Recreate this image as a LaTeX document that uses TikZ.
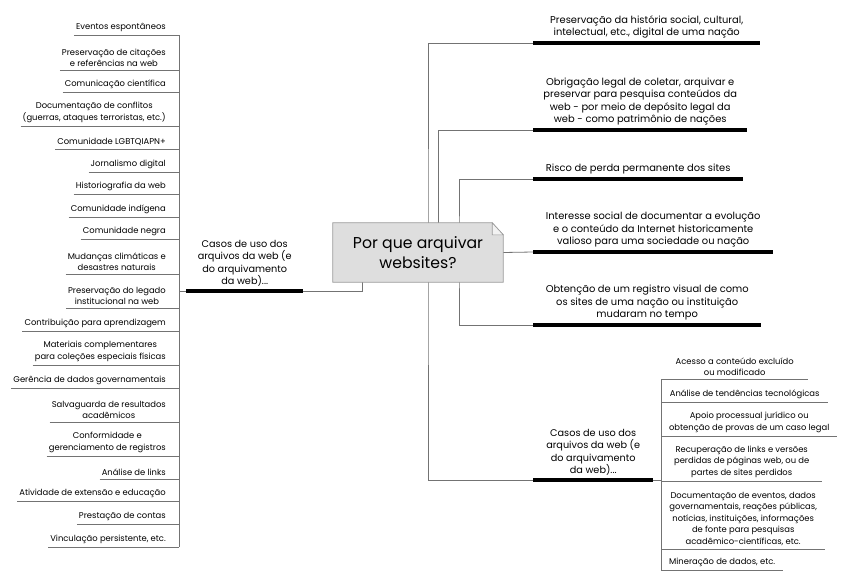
\documentclass[tikz,border=0pt]{standalone}
\usepackage{fontspec}
\setmainfont{Poppins}
\usetikzlibrary{backgrounds}

\begin{document}
\begin{tikzpicture}[x=1pt,y=-1pt,
  branch/.style={draw=black!55,line width=.8pt},
  leafline/.style={draw=black!55,line width=.8pt},
  thickline/.style={draw=black,line width=3.2pt},
  lleaf/.style={anchor=south east,align=center,inner xsep=2pt,inner ysep=3.2pt,
    font=\fontsize{8.4}{11.5}\selectfont},
  sleaf/.style={anchor=south west,align=center,inner xsep=2pt,inner ysep=3.2pt,
    font=\fontsize{8.4}{11.5}\selectfont},
  topic/.style={anchor=south west,align=center,inner xsep=0pt,inner ysep=4.5pt,
    font=\fontsize{9.9}{12.5}\selectfont},
  casos/.style={topic,font=\fontsize{9.7}{12.5}\selectfont}]
  \useasboundingbox (0,0) rectangle (850,581);

  % central question
  \node (q) [minimum width=170pt,minimum height=59pt,inner sep=0pt,align=center,
    font=\fontsize{15.7}{20}\selectfont] at (418,252.5) {Por que arquivar\\websites?};

  % right side: reasons
  \node (r1) [topic,minimum width=227pt] at (533,43) {Preservação da história social, cultural,\\intelectual, etc., digital de uma nação};
  \node (r2) [topic,minimum width=214pt] at (533,130) {Obrigação legal de coletar, arquivar e\\preservar para pesquisa conteúdos da\\web - por meio de depósito legal da\\web - como patrimônio de nações};
  \node (r3) [topic,minimum width=210pt] at (533,179) {Risco de perda permanente dos sites};
  \node (r4) [topic,minimum width=240pt] at (533,252) {Interesse social de documentar a evolução\\e o conteúdo da Internet historicamente\\valioso para uma sociedade ou nação};
  \node (r5) [topic,minimum width=228pt] at (533,325) {Obtenção de um registro visual de como\\os sites de uma nação ou instituição\\mudaram no tempo};
  \node (r6) [casos,minimum width=120pt] at (533,480) {Casos de uso dos\\arquivos da web (e\\do arquivamento\\da web)...};

  % right side: use cases
  \node (s1) [sleaf,minimum width=147pt] at (661,379) {Acesso a conteúdo excluído\\ou modificado};
  \node (s2) [sleaf,minimum width=167pt] at (661,402) {Análise de tendências tecnológicas};
  \node (s3) [sleaf,minimum width=176pt] at (661,436) {Apoio processual jurídico ou\\obtenção de provas de um caso legal};
  \node (s4) [sleaf,minimum width=161pt] at (661,481) {Recuperação de links e versões\\perdidas de páginas web, ou de\\partes de sites perdidos};
  \node (s5) [sleaf,minimum width=164pt] at (661,549) {Documentação de eventos, dados\\governamentais, reações públicas,\\notícias, instituições, informações\\de fonte para pesquisas\\acadêmico-científicas, etc.};
  \node (s6) [sleaf,minimum width=122pt] at (661,570) {Mineração de dados, etc.};

  % left side: use cases
  \node (lc) [casos,minimum width=117pt] at (186,291) {Casos de uso dos\\arquivos da web (e\\do arquivamento\\da web)...};
  \node (l1) [lleaf] at (168,35) {Eventos espontâneos};
  \node (l2) [lleaf] at (168,70) {Preservação de citações\\e referências na web};
  \node (l3) [lleaf] at (168,92) {Comunicação científica};
  \node (l4) [lleaf] at (168,126) {Documentação de conflitos\\(guerras, ataques terroristas, etc.)};
  \node (l5) [lleaf] at (168,149) {Comunidade LGBTQIAPN+};
  \node (l6) [lleaf] at (168,172) {Jornalismo digital};
  \node (l7) [lleaf] at (168,194) {Historiografia da web};
  \node (l8) [lleaf] at (168,217) {Comunidade indígena};
  \node (l9) [lleaf] at (168,239) {Comunidade negra};
  \node (l10) [lleaf] at (168,274) {Mudanças climáticas e\\desastres naturais};
  \node (l11) [lleaf] at (168,308) {Preservação do legado\\institucional na web};
  \node (l12) [lleaf] at (168,331) {Contribuição para aprendizagem};
  \node (l13) [lleaf] at (168,365) {Materiais complementares\\para coleções especiais físicas};
  \node (l14) [lleaf] at (168,388) {Gerência de dados governamentais};
  \node (l15) [lleaf] at (168,422) {Salvaguarda de resultados\\acadêmicos};
  \node (l16) [lleaf] at (168,456) {Conformidade e\\gerenciamento de registros};
  \node (l17) [lleaf] at (168,479) {Análise de links};
  \node (l18) [lleaf] at (168,501) {Atividade de extensão e educação};
  \node (l19) [lleaf] at (168,524) {Prestação de contas};
  \node (l20) [lleaf] at (168,547) {Vinculação persistente, etc.};

  \coordinate (ta) at (428,252);
  \coordinate (tb) at (438,252);
  \coordinate (tc) at (459,252);
  \coordinate (st) at (661,480);
  \coordinate (lt) at (179,291);
  \coordinate (qb) at (362,282);

  \begin{pgfonlayer}{background}
    \draw[branch] (r1.south west) -| (ta) |- (r6.south west);
    \draw[branch] (r2.south west) -| (tb);
    \draw[branch] (r3.south west) -| (tc) |- (r5.south west);
    \draw[branch] (q.east) -- (r4.south west);
    \draw[branch] (r6.south east) -- (st);
    \draw[branch] (s1.south west) -- (s6.south west);
    \draw[branch] (l1.south west -| lt) -- (l20.south west -| lt);
    \draw[branch] (lt) -- (lc.south west);
    \draw[branch] (lc.south east) -| (qb);
    % box with folded corner
    \draw[black!40,fill=black!13,line width=.8pt] (q.south west) -- (q.north west)
      -- ([xshift=-11pt]q.north east) -- ([yshift=-12pt]q.north east)
      -- (q.south east) -- cycle;
    \draw[black!40,fill=black!5,line width=.6pt] ([xshift=-11pt]q.north east)
      |- ([yshift=-12pt]q.north east) -- cycle;
  \end{pgfonlayer}

  \foreach \n in {r1,r2,r3,r4,r5,r6,lc}
    \draw[thickline] (\n.south west) -- (\n.south east);
  \foreach \n in {s1,s2,s3,s4,s5,s6}
    \draw[leafline] (\n.south west) -- (\n.south east);
  \foreach \n in {l1,l2,l3,l4,l5,l6,l7,l8,l9,l10,l11,l12,l13,l14,l15,l16,l17,l18,l19,l20}
    \draw[leafline] (\n.south west) -- (\n.south west -| lt);
\end{tikzpicture}
\end{document}
